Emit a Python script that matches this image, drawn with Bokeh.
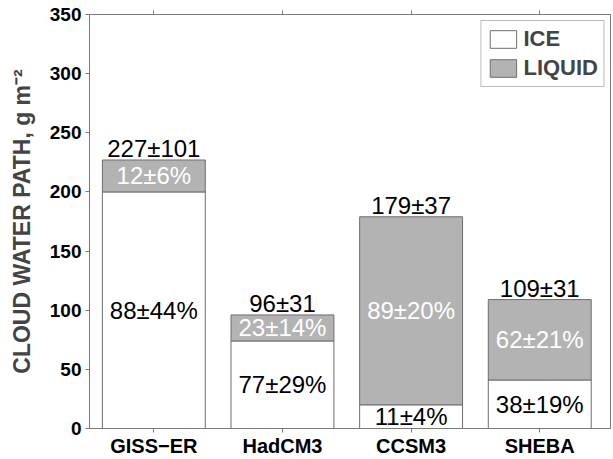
from bokeh.plotting import figure
from bokeh.models import ColumnDataSource, Range1d, LinearAxis, FixedTicker, Legend
from bokeh.core.properties import value
from bokeh.embed import file_html
from bokeh.resources import INLINE

# ---- data ----
categories = ["GISS−ER", "HadCM3", "CCSM3", "SHEBA"]
total = [227, 96, 179, 109]
total_sd = [101, 31, 37, 31]
ice = [200, 74, 20, 41]
ice_pct = [88, 77, 11, 38]
ice_pct_sd = [44, 29, 4, 19]
liq_pct = [12, 23, 89, 62]
liq_pct_sd = [6, 14, 20, 21]
y_ticks = [0, 50, 100, 150, 200, 250, 300, 350]

FONT = "Liberation Sans"
AXC = "#7a7a7a"
EDGE = "#6e6e6e"
GRAY = "#b3b3b3"

xs = list(range(1, len(categories) + 1))
src = ColumnDataSource(dict(
    x=xs,
    ice=ice,
    total=total,
    ice_mid=[i / 2 for i in ice],
    liq_mid=[i + (t - i) / 2 for i, t in zip(ice, total)],
    total_lbl=[f"{t}±{s}" for t, s in zip(total, total_sd)],
    ice_lbl=[f"{a}±{b}%" for a, b in zip(ice_pct, ice_pct_sd)],
    liq_lbl=[f"{a}±{b}%" for a, b in zip(liq_pct, liq_pct_sd)],
))

p = figure(width=613, height=459, x_range=Range1d(0.5, 4.55), y_range=Range1d(0, 350),
           output_backend="svg", toolbar_location=None,
           min_border_left=89, min_border_right=3, min_border_top=14, min_border_bottom=31)
p.xgrid.visible = False
p.ygrid.visible = False
p.outline_line_color = AXC
p.background_fill_color = "white"
p.border_fill_color = "white"

r_ice = p.vbar(x="x", width=0.8, bottom=0, top="ice", source=src,
               fill_color="white", line_color=EDGE, line_width=1)
r_liq = p.vbar(x="x", width=0.8, bottom="ice", top="total", source=src,
               fill_color=GRAY, line_color=EDGE, line_width=1)

p.text(x="x", y="total", text="total_lbl", source=src, text_align="center",
       text_baseline="bottom", y_offset=2, text_font=value(FONT),
       text_font_size="24px", text_color="black")
p.text(x="x", y="ice_mid", text="ice_lbl", source=src, text_align="center",
       text_baseline="middle", text_font=value(FONT),
       text_font_size="24px", text_color="black")
p.text(x="x", y="liq_mid", text="liq_lbl", source=src, text_align="center",
       text_baseline="middle", text_font=value(FONT),
       text_font_size="24px", text_color="white")

# axes
xa = p.xaxis[0]
xa.ticker = FixedTicker(ticks=xs)
xa.major_label_overrides = {x: c for x, c in zip(xs, categories)}
ya = p.yaxis[0]
ya.ticker = FixedTicker(ticks=y_ticks)
ya.axis_label = "CLOUD WATER PATH, g m⁻²"
ya.axis_label_text_font = FONT
ya.axis_label_text_font_style = "bold"
ya.axis_label_text_font_size = "23px"
ya.axis_label_standoff = 12
for ax in (xa, ya):
    ax.axis_line_color = AXC
    ax.major_tick_line_color = AXC
    ax.major_tick_out = 4
    ax.major_tick_in = 0
    ax.minor_tick_line_color = None
    ax.major_label_text_font = FONT
    ax.major_label_text_font_style = "bold"
    ax.major_label_text_color = "black"
ya.major_label_text_font_size = "19px"
ya.major_label_standoff = 4
xa.major_label_text_font_size = "20px"
xa.major_label_standoff = 2

top = LinearAxis(ticker=FixedTicker(ticks=xs))
top.axis_line_color = AXC
top.major_tick_line_color = AXC
top.major_tick_out = 4
top.major_tick_in = 0
top.minor_tick_line_color = None
top.major_label_text_font_size = "0px"
top.major_label_standoff = 0
top.major_label_overrides = {x: "" for x in xs}
p.add_layout(top, "above")

legend = Legend(items=[("ICE", [r_ice]), ("LIQUID", [r_liq])], location="top_right")
legend.label_text_font = FONT
legend.label_text_font_style = "bold"
legend.label_text_font_size = "22px"
legend.glyph_width = 33
legend.glyph_height = 22
legend.label_standoff = 4
legend.label_height = 22
legend.padding = 5
legend.spacing = 3
legend.margin = 6
legend.border_line_color = AXC
legend.border_line_width = 1
legend.background_fill_alpha = 1
p.add_layout(legend)

open("out.html", "w").write(file_html(p, INLINE))
